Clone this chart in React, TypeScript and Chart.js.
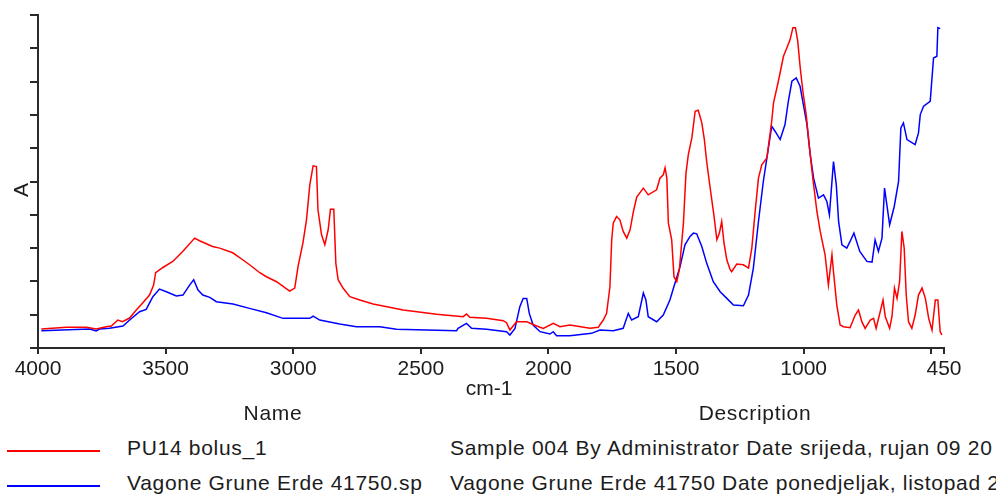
import React, { useEffect, useRef } from "react";
import { Chart, registerables } from "chart.js";

Chart.register(...registerables);

// ---- data (wavenumber cm-1 / absorbance) ----
const redWn = [
  3987, 3888, 3810, 3772, 3733, 3713, 3687, 3669, 3641, 3615,
  3590, 3563, 3547, 3539, 3512, 3472, 3433, 3386, 3367, 3316,
  3288, 3237, 3198, 3171, 3131, 3105, 3065, 3014, 2994, 2981,
  2962, 2948, 2935, 2922, 2909, 2903, 2889, 2876, 2863, 2854,
  2841, 2833, 2824, 2805, 2778, 2739, 2687, 2569, 2438, 2334,
  2321, 2308, 2242, 2177, 2164, 2151, 2125, 2085, 2046, 2020,
  1981, 1955, 1916, 1837, 1805, 1785, 1772, 1759, 1752, 1746,
  1733, 1720, 1707, 1693, 1680, 1667, 1654, 1628, 1609, 1576,
  1563, 1550, 1543, 1536, 1530, 1517, 1508, 1497, 1487, 1471,
  1461, 1452, 1438, 1425, 1413, 1399, 1389, 1380, 1367, 1351,
  1340, 1330, 1321, 1312, 1301, 1288, 1282, 1262, 1236, 1216,
  1203, 1190, 1177, 1164, 1144, 1125, 1118, 1099, 1079, 1066,
  1053, 1042, 1032, 1023, 1014, 1003, 990, 977, 964, 948,
  935, 916, 903, 889, 883, 870, 857, 844, 818, 798,
  785, 772, 759, 739, 726, 716, 700, 689, 680, 663,
  654, 644, 634, 624, 615, 606, 598, 589, 576, 563,
  550, 536, 523, 510, 497, 484, 474, 465, 458,
];
const redAbs = [
  0.057, 0.062, 0.062, 0.057, 0.064, 0.066, 0.084, 0.079, 0.090, 0.114,
  0.135, 0.159, 0.189, 0.226, 0.241, 0.260, 0.290, 0.330, 0.322, 0.305,
  0.300, 0.286, 0.265, 0.250, 0.226, 0.214, 0.199, 0.171, 0.180, 0.245,
  0.315, 0.385, 0.490, 0.547, 0.545, 0.415, 0.340, 0.310, 0.355, 0.417,
  0.417, 0.255, 0.205, 0.180, 0.154, 0.144, 0.132, 0.114, 0.101, 0.094,
  0.102, 0.092, 0.089, 0.082, 0.076, 0.054, 0.079, 0.079, 0.066, 0.059,
  0.074, 0.064, 0.069, 0.059, 0.062, 0.084, 0.104, 0.184, 0.325, 0.375,
  0.395, 0.385, 0.350, 0.330, 0.355, 0.410, 0.453, 0.480, 0.460, 0.475,
  0.510, 0.520, 0.541, 0.510, 0.375, 0.325, 0.214, 0.199, 0.235, 0.375,
  0.525, 0.580, 0.631, 0.711, 0.714, 0.676, 0.626, 0.560, 0.485, 0.395,
  0.325, 0.345, 0.380, 0.315, 0.265, 0.235, 0.229, 0.252, 0.250, 0.240,
  0.300, 0.410, 0.510, 0.550, 0.571, 0.681, 0.736, 0.801, 0.876, 0.901,
  0.926, 0.962, 0.962, 0.921, 0.846, 0.771, 0.701, 0.601, 0.510, 0.410,
  0.350, 0.280, 0.189, 0.280, 0.229, 0.129, 0.069, 0.064, 0.061, 0.099,
  0.114, 0.079, 0.059, 0.084, 0.089, 0.059, 0.109, 0.144, 0.094, 0.059,
  0.094, 0.180, 0.149, 0.199, 0.350, 0.300, 0.159, 0.079, 0.059, 0.099,
  0.159, 0.180, 0.149, 0.089, 0.054, 0.144, 0.144, 0.049, 0.039,
];

const blueWn = [
  3987, 3798, 3772, 3759, 3720, 3667, 3641, 3602, 3576, 3550,
  3524, 3497, 3458, 3432, 3406, 3390, 3373, 3354, 3327, 3301,
  3236, 3171, 3105, 3040, 2935, 2922, 2896, 2818, 2752, 2661,
  2595, 2360, 2354, 2321, 2301, 2242, 2164, 2151, 2131, 2112,
  2099, 2085, 2075, 2060, 2033, 1994, 1981, 1968, 1916, 1831,
  1798, 1746, 1707, 1687, 1674, 1648, 1628, 1618, 1609, 1576,
  1550, 1524, 1504, 1484, 1465, 1445, 1432, 1419, 1399, 1380,
  1354, 1327, 1301, 1275, 1236, 1216, 1197, 1177, 1158, 1138,
  1125, 1112, 1092, 1073, 1060, 1046, 1029, 1014, 1001, 987,
  974, 961, 942, 922, 909, 899, 883, 872, 863, 850,
  831, 818, 803, 780, 752, 732, 720, 707, 693, 683,
  663, 645, 628, 619, 609, 595, 563, 550, 543, 530,
  504, 491, 478, 474, 465,
];
const blueAbs = [
  0.052, 0.057, 0.051, 0.057, 0.059, 0.066, 0.084, 0.109, 0.116, 0.154,
  0.177, 0.169, 0.156, 0.159, 0.189, 0.205, 0.174, 0.159, 0.152, 0.139,
  0.132, 0.119, 0.106, 0.089, 0.089, 0.096, 0.084, 0.072, 0.064, 0.064,
  0.056, 0.052, 0.059, 0.074, 0.059, 0.056, 0.049, 0.039, 0.059, 0.124,
  0.149, 0.149, 0.104, 0.069, 0.049, 0.042, 0.049, 0.037, 0.037, 0.044,
  0.054, 0.052, 0.059, 0.104, 0.084, 0.094, 0.165, 0.144, 0.094, 0.079,
  0.099, 0.144, 0.195, 0.245, 0.310, 0.335, 0.345, 0.343, 0.305, 0.255,
  0.199, 0.169, 0.149, 0.129, 0.127, 0.159, 0.240, 0.380, 0.500, 0.601,
  0.666, 0.651, 0.626, 0.671, 0.741, 0.801, 0.811, 0.786, 0.731, 0.671,
  0.580, 0.510, 0.450, 0.460, 0.440, 0.400, 0.560, 0.490, 0.380, 0.310,
  0.300, 0.320, 0.345, 0.290, 0.260, 0.258, 0.325, 0.290, 0.330, 0.480,
  0.370, 0.425, 0.500, 0.661, 0.676, 0.626, 0.611, 0.646, 0.701, 0.726,
  0.741, 0.871, 0.876, 0.962, 0.959,
];

const xTickValues = [4000, 3500, 3000, 2500, 2000, 1500, 1000, 500, 450];
const xUnlabeledTicks = [500];
const xMin = 450;
const xMax = 4000;
const yMin = 0;
const yMax = 1;
const yStep = 0.1;

const xTitle = "cm-1";
const yTitle = "A";
const legendHeaderName = "Name";
const legendHeaderDesc = "Description";
const seriesNames = ["PU14 bolus_1", "Vagone Grune Erde 41750.sp"];
const seriesDescriptions = [
  "Sample 004 By Administrator Date srijeda, rujan 09 20",
  "Vagone Grune Erde 41750 Date ponedjeljak, listopad 2",
];
const seriesColors = ["#ff0000", "#0000ff"];

const FONT = "'Liberation Sans', Arial, sans-serif";
const TEXT = "#1c1c1c";
const AXIS = "#2a2a2a";

const axisTitles = {
  id: "axisTitles",
  afterDraw(chart: any) {
    const { ctx, chartArea } = chart;
    ctx.save();
    ctx.fillStyle = TEXT;
    ctx.font = `21px ${FONT}`;
    ctx.textAlign = "center";
    ctx.textBaseline = "alphabetic";
    ctx.fillText(xTitle, (chartArea.left + chartArea.right) / 2 - 2, chartArea.bottom + 47);
    ctx.translate(chartArea.left - 10, (chartArea.top + chartArea.bottom) / 2 + 8.5);
    ctx.rotate(-Math.PI / 2);
    ctx.fillText(yTitle, 0, 0);
    ctx.restore();
  },
};

export default function App() {
  const ref = useRef<HTMLCanvasElement | null>(null);

  useEffect(() => {
    if (!ref.current) return;
    const chart = new Chart(ref.current, {
      type: "line",
      data: {
        datasets: [
          {
            label: seriesNames[0],
            data: redWn.map((x, i) => ({ x, y: redAbs[i] })),
            borderColor: seriesColors[0],
            borderWidth: 1.5,
            pointRadius: 0,
            fill: false,
            tension: 0,
          },
          {
            label: seriesNames[1],
            data: blueWn.map((x, i) => ({ x, y: blueAbs[i] })),
            borderColor: seriesColors[1],
            borderWidth: 1.5,
            pointRadius: 0,
            fill: false,
            tension: 0,
          },
        ],
      },
      options: {
        responsive: false,
        animation: false,
        devicePixelRatio: 1,
        layout: { padding: { top: 15, right: 52, left: 0, bottom: 0 } },
        plugins: {
          legend: { display: false },
          tooltip: { enabled: false },
        },
        scales: {
          x: {
            type: "linear",
            reverse: true,
            min: xMin,
            max: xMax,
            afterBuildTicks: (s: any) => {
              s.ticks = xTickValues.map((v) => ({ value: v }));
            },
            afterFit: (s: any) => {
              s.height = 62;
            },
            grid: { drawOnChartArea: false, drawTicks: true, tickLength: 6, color: AXIS, lineWidth: 2 },
            border: { display: true, color: AXIS, width: 2 },
            ticks: {
              autoSkip: false,
              maxRotation: 0,
              padding: 3,
              color: TEXT,
              font: { family: FONT, size: 21 },
              callback: (v: any) => (xUnlabeledTicks.includes(Number(v)) ? "" : String(v)),
            },
          },
          y: {
            type: "linear",
            min: yMin,
            max: yMax,
            afterFit: (s: any) => {
              s.width = 38;
            },
            grid: { drawOnChartArea: false, drawTicks: true, tickLength: 8, color: AXIS, lineWidth: 2 },
            border: { display: true, color: AXIS, width: 2 },
            ticks: { display: false, stepSize: yStep },
          },
        },
      },
      plugins: [axisTitles],
    });
    return () => chart.destroy();
  }, []);

  const textStyle: React.CSSProperties = {
    position: "absolute",
    fontFamily: FONT,
    fontSize: 21,
    lineHeight: "21px",
    color: TEXT,
    whiteSpace: "nowrap",
    letterSpacing: "0.7px",
  };

  return (
    <div
      style={{
        position: "absolute",
        left: 0,
        top: 0,
        width: 996,
        height: 498,
        overflow: "hidden",
        background: "#ffffff",
      }}
    >
      <canvas ref={ref} width={996} height={410} style={{ position: "absolute", left: 0, top: 0, width: 996, height: 410 }} />
      <div style={{ ...textStyle, top: 402, left: 273, transform: "translateX(-50%)" }}>{legendHeaderName}</div>
      <div style={{ ...textStyle, top: 402, left: 755, transform: "translateX(-50%)" }}>{legendHeaderDesc}</div>
      {seriesNames.map((name, i) => (
        <React.Fragment key={name}>
          <div
            style={{
              position: "absolute",
              left: 7,
              width: 93,
              top: 450 + i * 35,
              height: 2,
              background: seriesColors[i],
            }}
          />
          <div style={{ ...textStyle, top: 437 + i * 35, left: 127 }}>{name}</div>
          <div style={{ ...textStyle, top: 437 + i * 35, left: 450 }}>{seriesDescriptions[i]}</div>
        </React.Fragment>
      ))}
    </div>
  );
}
